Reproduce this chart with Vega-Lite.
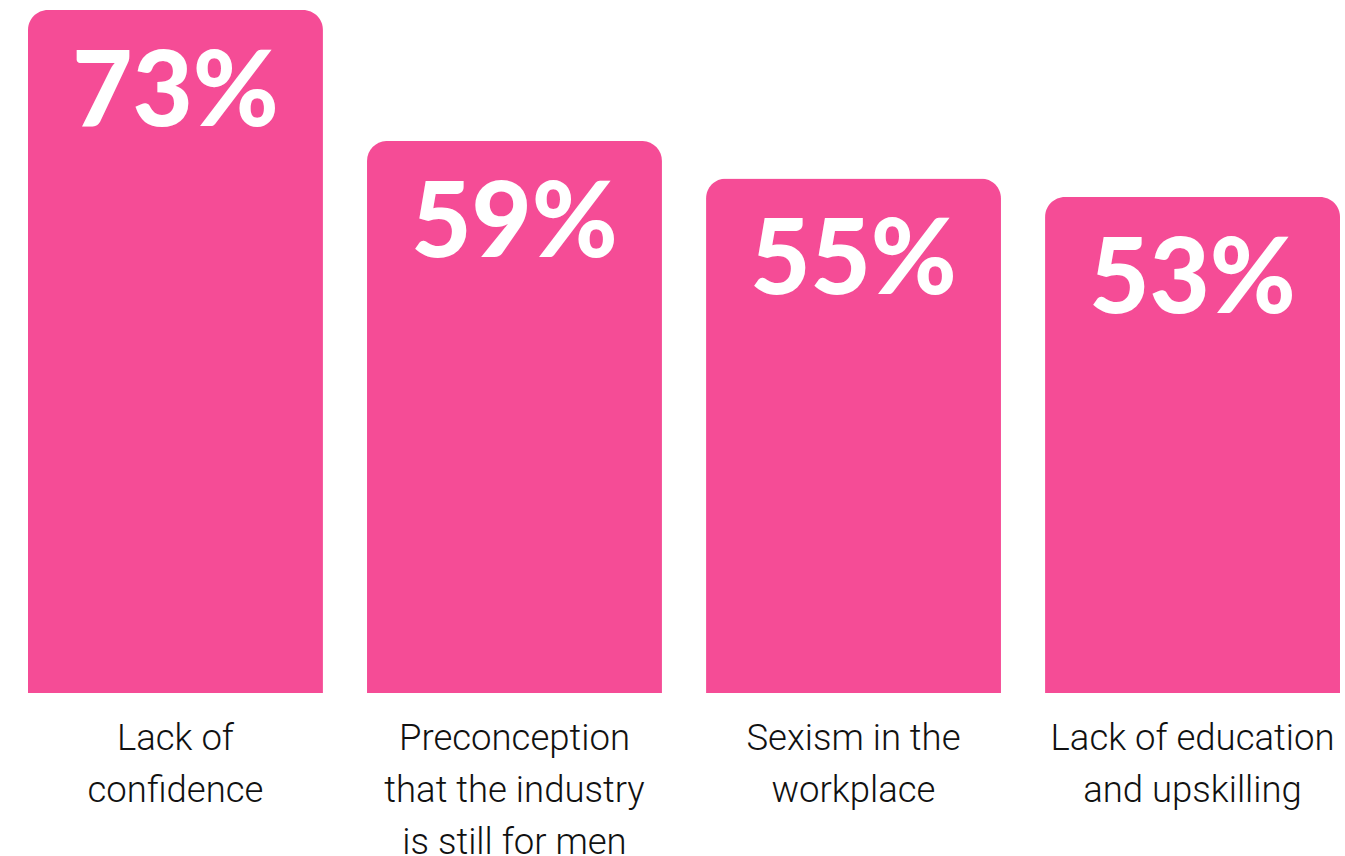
{
  "$schema": "https://vega.github.io/schema/vega-lite/v6.json",
  "width": 1312,
  "height": 683,
  "autosize": {"type": "none"},
  "padding": {"left": 28, "top": 10, "right": 5, "bottom": 163},
  "background": "white",
  "config": {"view": {"stroke": null}},
  "data": {
    "values": [
      {"category": "Lack of|confidence", "value": 73, "label": "73%"},
      {"category": "Preconception|that the industry|is still for men", "value": 59, "label": "59%"},
      {"category": "Sexism in the|workplace", "value": 55, "label": "55%"},
      {"category": "Lack of education|and upskilling", "value": 53, "label": "53%"}
    ]
  },
  "encoding": {
    "x": {
      "field": "category",
      "type": "nominal",
      "sort": null,
      "scale": {"paddingInner": 0.13, "paddingOuter": 0},
      "axis": {
        "title": null,
        "domain": false,
        "ticks": false,
        "labelAngle": 0,
        "labelExpr": "split(datum.label, '|')",
        "labelFont": "Roboto",
        "labelFontWeight": 300,
        "labelFontSize": 36.5,
        "labelColor": "#111111",
        "labelLineHeight": 52,
        "labelPadding": 27,
        "labelBaseline": "top",
        "labelLimit": 400
      }
    },
    "y": {
      "field": "value",
      "type": "quantitative",
      "scale": {"domain": [0, 73], "nice": false},
      "axis": null
    }
  },
  "layer": [
    {
      "mark": {"type": "bar", "color": "#F54C96", "cornerRadiusTopLeft": 20, "cornerRadiusTopRight": 20}
    },
    {
      "mark": {
        "type": "text",
        "color": "white",
        "font": "Lato",
        "fontWeight": 900,
        "fontSize": 104,
        "baseline": "top",
        "align": "center",
        "dy": 34
      },
      "encoding": {"text": {"field": "label"}}
    }
  ]
}
